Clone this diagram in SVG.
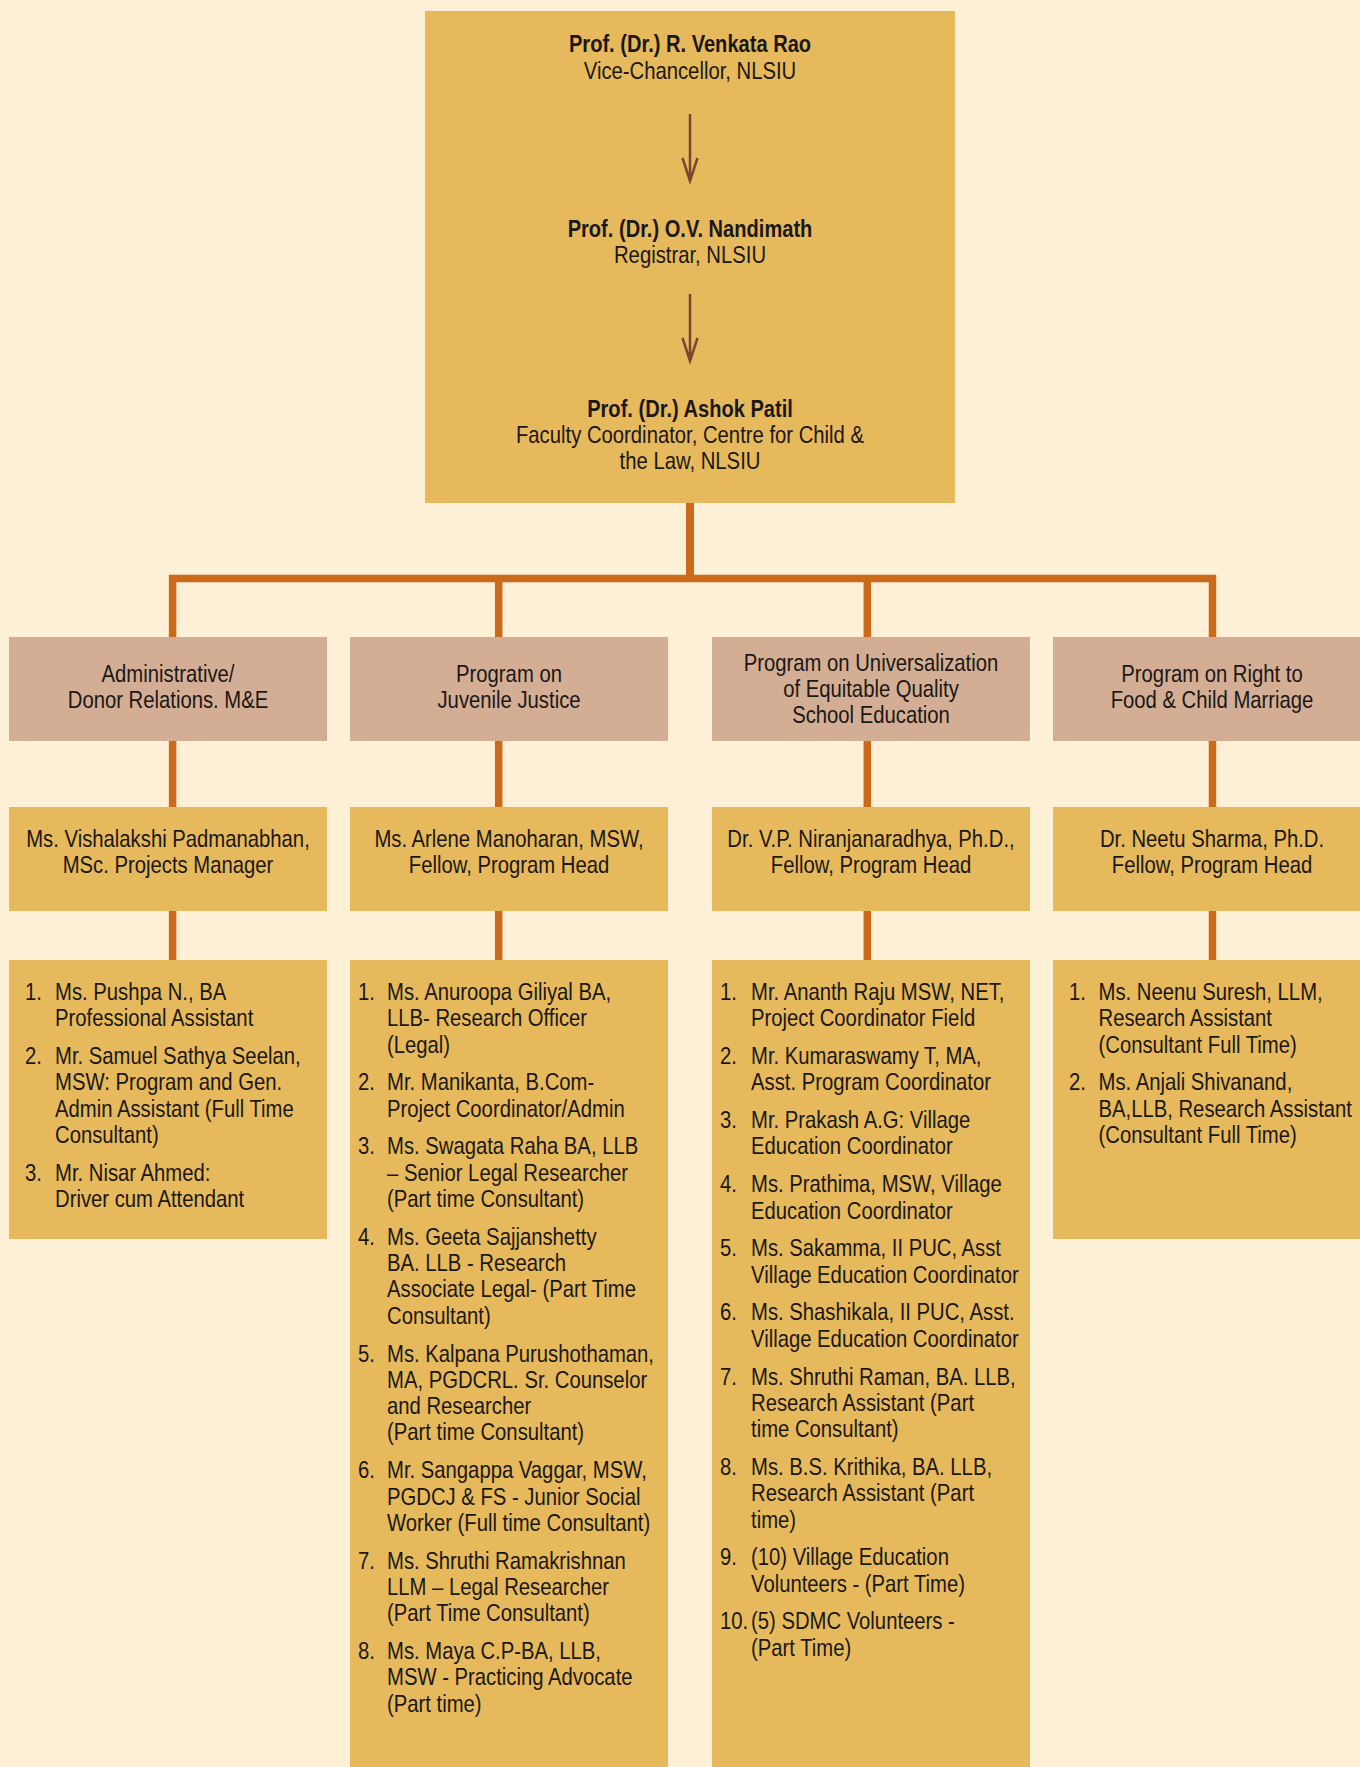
<svg xmlns="http://www.w3.org/2000/svg" width="1360" height="1767" viewBox="0 0 1360 1767">
<style>
.bg{fill:#FEF0D7}
.gold{fill:#E6B95C}
.tan{fill:#D3AE94}
.t{font-family:"Liberation Sans",Arial,sans-serif;font-size:24px;fill:#1b1714}
.c{text-anchor:middle}
.b{font-weight:bold}
.conn{stroke:#CC6A1C;stroke-width:7.5;fill:none}
.arr{stroke:#7B4432;stroke-width:2.5;fill:none}
</style>
<rect class="bg" x="0" y="0" width="1360" height="1767"/>

<g id="top">
<rect class="gold" x="425" y="11" width="530" height="492"/>
<text class="t c b" transform="translate(690 0) scale(0.837 1)"><tspan x="0" y="52">Prof. (Dr.) R. Venkata Rao</tspan></text>
<text class="t c" transform="translate(690 0) scale(0.845 1)"><tspan x="0" y="79">Vice-Chancellor, NLSIU</tspan></text>
<text class="t c b" transform="translate(690 0) scale(0.837 1)"><tspan x="0" y="237">Prof. (Dr.) O.V. Nandimath</tspan></text>
<text class="t c" transform="translate(690 0) scale(0.845 1)"><tspan x="0" y="263">Registrar, NLSIU</tspan></text>
<text class="t c b" transform="translate(690 0) scale(0.837 1)"><tspan x="0" y="417">Prof. (Dr.) Ashok Patil</tspan></text>
<text class="t c" transform="translate(690 0) scale(0.845 1)"><tspan x="0" y="443">Faculty Coordinator, Centre for Child &amp;</tspan><tspan x="0" y="469">the Law, NLSIU</tspan></text>
</g>

<g id="cat-admin">
<rect class="tan" x="9" y="637" width="318" height="104"/>
<text class="t c" transform="translate(168 0) scale(0.845 1)"><tspan x="0" y="682">Administrative/</tspan><tspan x="0" y="708">Donor Relations. M&amp;E</tspan></text>
</g>
<g id="cat-jj">
<rect class="tan" x="350" y="637" width="318" height="104"/>
<text class="t c" transform="translate(509 0) scale(0.845 1)"><tspan x="0" y="682">Program on</tspan><tspan x="0" y="708">Juvenile Justice</tspan></text>
</g>
<g id="cat-ueq">
<rect class="tan" x="712" y="637" width="318" height="104"/>
<text class="t c" transform="translate(871 0) scale(0.845 1)"><tspan x="0" y="671">Program on Universalization</tspan><tspan x="0" y="697">of Equitable Quality</tspan><tspan x="0" y="723">School Education</tspan></text>
</g>
<g id="cat-rtf">
<rect class="tan" x="1053" y="637" width="318" height="104"/>
<text class="t c" transform="translate(1212 0) scale(0.845 1)"><tspan x="0" y="682">Program on Right to</tspan><tspan x="0" y="708">Food &amp; Child Marriage</tspan></text>
</g>

<g id="lead-admin">
<rect class="gold" x="9" y="807" width="318" height="104"/>
<text class="t c" transform="translate(168 0) scale(0.845 1)"><tspan x="0" y="847">Ms. Vishalakshi Padmanabhan,</tspan><tspan x="0" y="873">MSc. Projects Manager</tspan></text>
</g>
<g id="lead-jj">
<rect class="gold" x="350" y="807" width="318" height="104"/>
<text class="t c" transform="translate(509 0) scale(0.845 1)"><tspan x="0" y="847">Ms. Arlene Manoharan, MSW,</tspan><tspan x="0" y="873">Fellow, Program Head</tspan></text>
</g>
<g id="lead-ueq">
<rect class="gold" x="712" y="807" width="318" height="104"/>
<text class="t c" transform="translate(871 0) scale(0.845 1)"><tspan x="0" y="847">Dr. V.P. Niranjanaradhya, Ph.D.,</tspan><tspan x="0" y="873">Fellow, Program Head</tspan></text>
</g>
<g id="lead-rtf">
<rect class="gold" x="1053" y="807" width="318" height="104"/>
<text class="t c" transform="translate(1212 0) scale(0.845 1)"><tspan x="0" y="847">Dr. Neetu Sharma, Ph.D.</tspan><tspan x="0" y="873">Fellow, Program Head</tspan></text>
</g>

<g id="list-admin">
<rect class="gold" x="9" y="960" width="318" height="279"/>
<g transform="translate(55 0) scale(0.845 1)">
<text class="t"><tspan x="-35.5" y="1000">1.</tspan><tspan x="0" y="1000">Ms. Pushpa N., BA</tspan><tspan x="0" y="1026.3">Professional Assistant</tspan></text>
<text class="t"><tspan x="-35.5" y="1064.1">2.</tspan><tspan x="0" y="1064.1">Mr. Samuel Sathya Seelan,</tspan><tspan x="0" y="1090.4">MSW: Program and Gen.</tspan><tspan x="0" y="1116.7">Admin Assistant (Full Time</tspan><tspan x="0" y="1143">Consultant)</tspan></text>
<text class="t"><tspan x="-35.5" y="1180.8">3.</tspan><tspan x="0" y="1180.8">Mr. Nisar Ahmed:</tspan><tspan x="0" y="1207.1">Driver cum Attendant</tspan></text>
</g>
</g>

<g id="list-jj">
<rect class="gold" x="350" y="960" width="318" height="807"/>
<g transform="translate(387 0) scale(0.845 1)">
<text class="t"><tspan x="-34.3" y="1000">1.</tspan><tspan x="0" y="1000">Ms. Anuroopa Giliyal BA,</tspan><tspan x="0" y="1026.3">LLB- Research Officer</tspan><tspan x="0" y="1052.6">(Legal)</tspan></text>
<text class="t"><tspan x="-34.3" y="1090.4">2.</tspan><tspan x="0" y="1090.4">Mr. Manikanta, B.Com-</tspan><tspan x="0" y="1116.7">Project Coordinator/Admin</tspan></text>
<text class="t"><tspan x="-34.3" y="1154.5">3.</tspan><tspan x="0" y="1154.5">Ms. Swagata Raha BA, LLB</tspan><tspan x="0" y="1180.8">– Senior Legal Researcher</tspan><tspan x="0" y="1207.1">(Part time Consultant)</tspan></text>
<text class="t"><tspan x="-34.3" y="1244.9">4.</tspan><tspan x="0" y="1244.9">Ms. Geeta Sajjanshetty</tspan><tspan x="0" y="1271.2">BA. LLB - Research</tspan><tspan x="0" y="1297.5">Associate Legal- (Part Time</tspan><tspan x="0" y="1323.8">Consultant)</tspan></text>
<text class="t"><tspan x="-34.3" y="1361.6">5.</tspan><tspan x="0" y="1361.6">Ms. Kalpana Purushothaman,</tspan><tspan x="0" y="1387.9">MA, PGDCRL. Sr. Counselor</tspan><tspan x="0" y="1414.2">and Researcher</tspan><tspan x="0" y="1440.5">(Part time Consultant)</tspan></text>
<text class="t"><tspan x="-34.3" y="1478.3">6.</tspan><tspan x="0" y="1478.3">Mr. Sangappa Vaggar, MSW,</tspan><tspan x="0" y="1504.6">PGDCJ &amp; FS - Junior Social</tspan><tspan x="0" y="1530.9">Worker (Full time Consultant)</tspan></text>
<text class="t"><tspan x="-34.3" y="1568.7">7.</tspan><tspan x="0" y="1568.7">Ms. Shruthi Ramakrishnan</tspan><tspan x="0" y="1595">LLM – Legal Researcher</tspan><tspan x="0" y="1621.3">(Part Time Consultant)</tspan></text>
<text class="t"><tspan x="-34.3" y="1659.1">8.</tspan><tspan x="0" y="1659.1">Ms. Maya C.P-BA, LLB,</tspan><tspan x="0" y="1685.4">MSW - Practicing Advocate</tspan><tspan x="0" y="1711.7">(Part time)</tspan></text>
</g>
</g>

<g id="list-ueq">
<rect class="gold" x="712" y="960" width="318" height="807"/>
<g transform="translate(751 0) scale(0.845 1)">
<text class="t"><tspan x="-36.7" y="1000">1.</tspan><tspan x="0" y="1000">Mr. Ananth Raju MSW, NET,</tspan><tspan x="0" y="1026.3">Project Coordinator Field</tspan></text>
<text class="t"><tspan x="-36.7" y="1064.1">2.</tspan><tspan x="0" y="1064.1">Mr. Kumaraswamy T, MA,</tspan><tspan x="0" y="1090.4">Asst. Program Coordinator</tspan></text>
<text class="t"><tspan x="-36.7" y="1128.2">3.</tspan><tspan x="0" y="1128.2">Mr. Prakash A.G: Village</tspan><tspan x="0" y="1154.5">Education Coordinator</tspan></text>
<text class="t"><tspan x="-36.7" y="1192.3">4.</tspan><tspan x="0" y="1192.3">Ms. Prathima, MSW, Village</tspan><tspan x="0" y="1218.6">Education Coordinator</tspan></text>
<text class="t"><tspan x="-36.7" y="1256.4">5.</tspan><tspan x="0" y="1256.4">Ms. Sakamma, II PUC, Asst</tspan><tspan x="0" y="1282.7">Village Education Coordinator</tspan></text>
<text class="t"><tspan x="-36.7" y="1320.5">6.</tspan><tspan x="0" y="1320.5">Ms. Shashikala, II PUC, Asst.</tspan><tspan x="0" y="1346.8">Village Education Coordinator</tspan></text>
<text class="t"><tspan x="-36.7" y="1384.6">7.</tspan><tspan x="0" y="1384.6">Ms. Shruthi Raman, BA. LLB,</tspan><tspan x="0" y="1410.9">Research Assistant (Part</tspan><tspan x="0" y="1437.2">time Consultant)</tspan></text>
<text class="t"><tspan x="-36.7" y="1475">8.</tspan><tspan x="0" y="1475">Ms. B.S. Krithika, BA. LLB,</tspan><tspan x="0" y="1501.3">Research Assistant (Part</tspan><tspan x="0" y="1527.6">time)</tspan></text>
<text class="t"><tspan x="-36.7" y="1565.4">9.</tspan><tspan x="0" y="1565.4">(10) Village Education</tspan><tspan x="0" y="1591.7">Volunteers - (Part Time)</tspan></text>
<text class="t"><tspan x="-36.7" y="1629.5">10.</tspan><tspan x="0" y="1629.5">(5) SDMC Volunteers -</tspan><tspan x="0" y="1655.8">(Part Time)</tspan></text>
</g>
</g>

<g id="list-rtf">
<rect class="gold" x="1053" y="960" width="318" height="279"/>
<g transform="translate(1098.5 0) scale(0.845 1)">
<text class="t"><tspan x="-34.9" y="1000">1.</tspan><tspan x="0" y="1000">Ms. Neenu Suresh, LLM,</tspan><tspan x="0" y="1026.3">Research Assistant</tspan><tspan x="0" y="1052.6">(Consultant Full Time)</tspan></text>
<text class="t"><tspan x="-34.9" y="1090.4">2.</tspan><tspan x="0" y="1090.4">Ms. Anjali Shivanand,</tspan><tspan x="0" y="1116.7">BA,LLB, Research Assistant</tspan><tspan x="0" y="1143">(Consultant Full Time)</tspan></text>
</g>
</g>

<g id="connectors">
<path class="arr" d="M690 114 V180 M682.5 158 L690 181 L697.5 158"/>
<path class="arr" d="M690 294 V360 M682.5 338 L690 361 L697.5 338"/>
<path class="conn" style="stroke-width:8" d="M690 503 V578.5"/>
<path class="conn" d="M172.6 637 V578.5 H1212.5 V637"/>
<path class="conn" d="M498.7 578.5 V637 M867.3 578.5 V637"/>
<path class="conn" d="M172.6 741 V807 M498.7 741 V807 M867.3 741 V807 M1212.5 741 V807"/>
<path class="conn" d="M172.6 911 V960 M498.7 911 V960 M867.3 911 V960 M1212.5 911 V960"/>
</g>
</svg>
